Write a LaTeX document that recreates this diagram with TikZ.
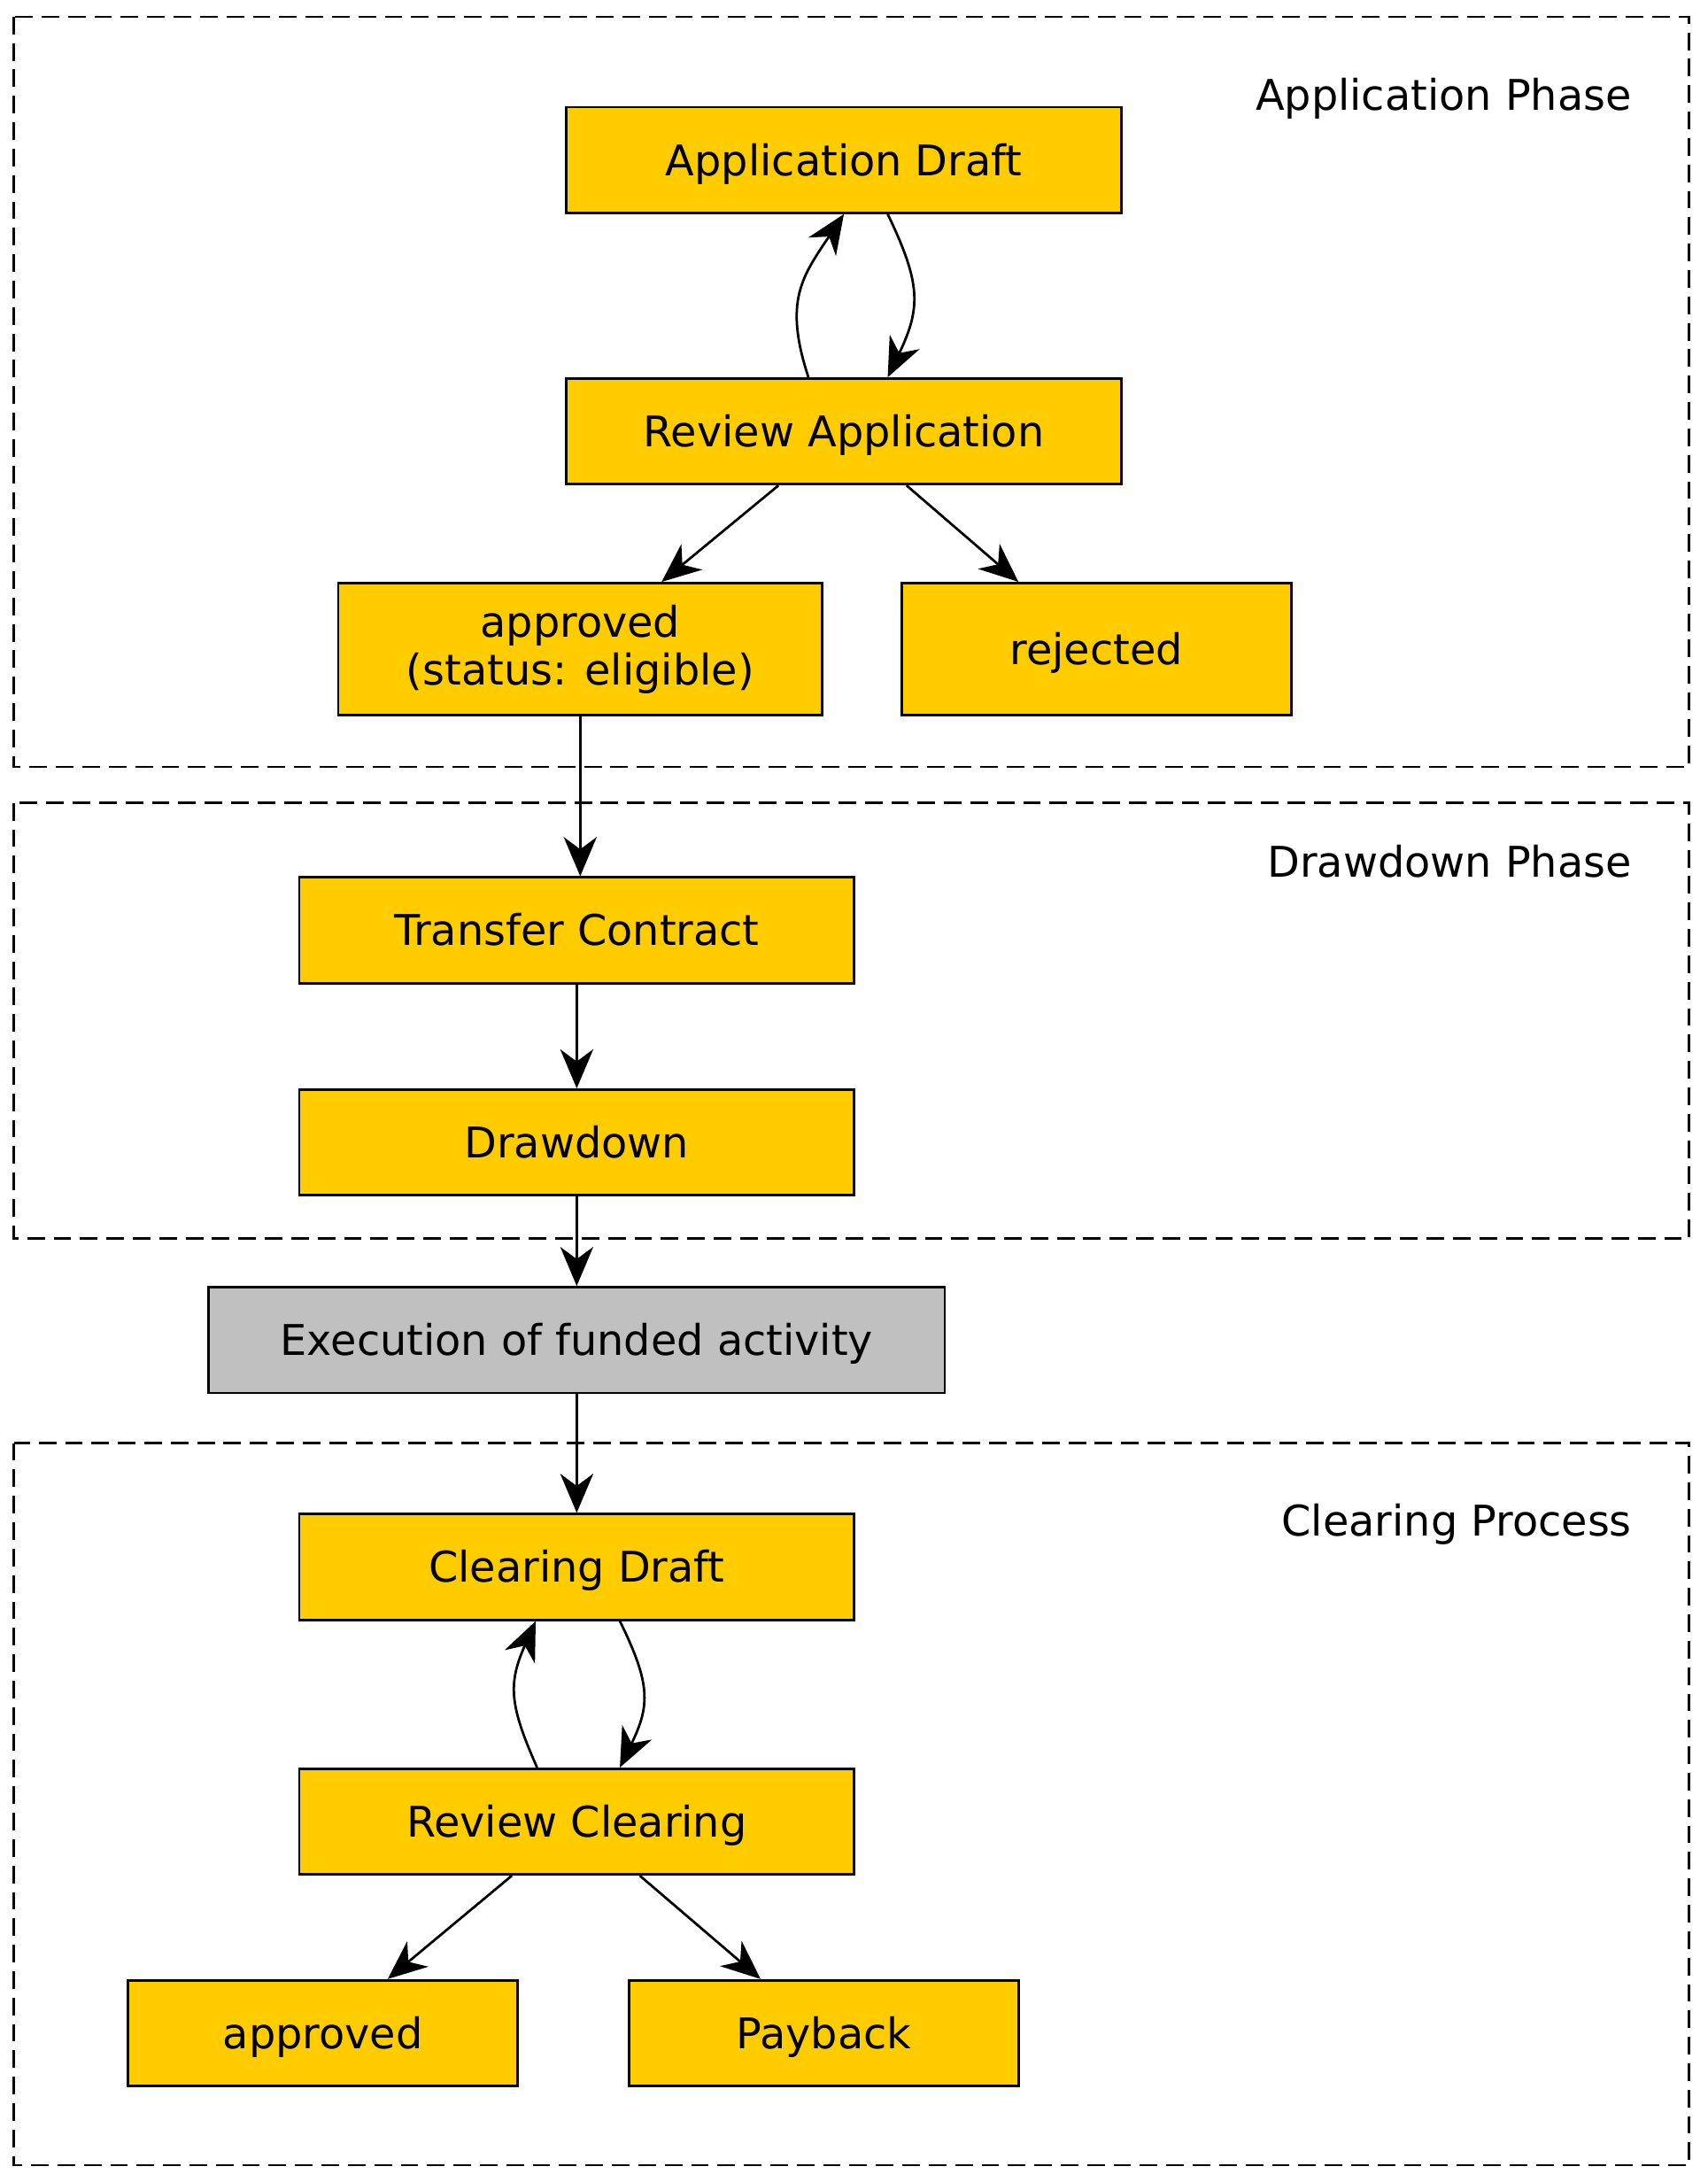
\documentclass[tikz,border=0pt]{standalone}
\usepackage{fontspec}
\setmainfont{DejaVu Sans}
\usetikzlibrary{arrows.meta}
\definecolor{gold}{HTML}{FFCC00}
\definecolor{silver}{HTML}{C0C0C0}
\tikzset{
  box/.style={draw, fill=gold, line width=1pt, inner sep=0pt, align=center,
    minimum width=7.98cm, minimum height=1.52cm, font=\fontsize{17.3}{19.6}\selectfont},
  state/.style={box, text height=12.6pt, text depth=0pt},
  cluster/.style={draw, line width=0.9pt, dash pattern=on 7.2pt off 3.6pt},
  clabel/.style={anchor=base east, inner sep=0pt, font=\fontsize{17.3}{19.6}\selectfont},
  flow/.style={draw, line width=1pt, -{Stealth[length=16pt,width=13.5pt,inset=5pt]}},
}
\begin{document}
\begin{tikzpicture}[x=0.02cm,y=-0.02cm]
\useasboundingbox (0,0) rectangle (1227,1568);
\begin{scope}
\draw[cluster] (10,12) rectangle (1214,551);
\node[clabel] (lapp) at (1173,79.5) {Application Phase};

\node[state] (ad) at (606.5,115) {Application Draft};
\node[state] (ra) at (606.5,310) {Review Application};
\node[box, minimum width=6.96cm, minimum height=1.9cm] (ok) at (417,466.5) {approved\\(status: eligible)};
\node[state, minimum width=5.6cm, minimum height=1.9cm] (rej) at (788,466.5) {rejected};

\path[flow] ([xshift=-0.51cm]ra.north) .. controls +(-0.36cm,1.1cm) and +(-0.6cm,-0.9cm) .. (ad.south);
\path[flow] ([xshift=0.63cm]ad.south) .. controls +(0.48cm,-1.0cm) and +(0.48cm,1.0cm) .. ([xshift=0.63cm]ra.north);
\path[flow] (ra) -- (ok);
\path[flow] (ra) -- (rej);
\end{scope}

\begin{scope}
\draw[cluster] (10,577) rectangle (1214,890);
\node[clabel] (ldraw) at (1173,630.5) {Drawdown Phase};

\node[state] (tc) at (414.5,668.5) {Transfer Contract};
\node[state] (dd) at (414.5,821) {Drawdown};

\path[flow] (ok.south) -- (ok.south |- tc.north);
\path[flow] (tc) -- (dd);
\end{scope}

\node[state, fill=silver, minimum width=10.58cm] (ex) at (414.5,963) {Execution of funded activity};
\path[flow] (dd) -- (ex);

\begin{scope}
\draw[cluster] (10,1037) rectangle (1214,1556);
\node[clabel] (lclear) at (1173,1104) {Clearing Process};

\node[state] (cd) at (414.5,1126) {Clearing Draft};
\node[state] (rc) at (414.5,1309) {Review Clearing};
\node[state, minimum width=5.6cm] (cok) at (232,1461) {approved};
\node[state, minimum width=5.6cm] (pb) at (592,1461) {Payback};

\path[flow] (ex) -- (cd);
\path[flow] ([xshift=-0.57cm]rc.north) .. controls +(-0.4cm,0.9cm) and +(-0.4cm,-0.9cm) .. ([xshift=-0.59cm]cd.south);
\path[flow] ([xshift=0.62cm]cd.south) .. controls +(0.44cm,-0.9cm) and +(0.44cm,0.9cm) .. ([xshift=0.62cm]rc.north);
\path[flow] (rc) -- (cok);
\path[flow] (rc) -- (pb);
\end{scope}
\end{tikzpicture}
\end{document}
